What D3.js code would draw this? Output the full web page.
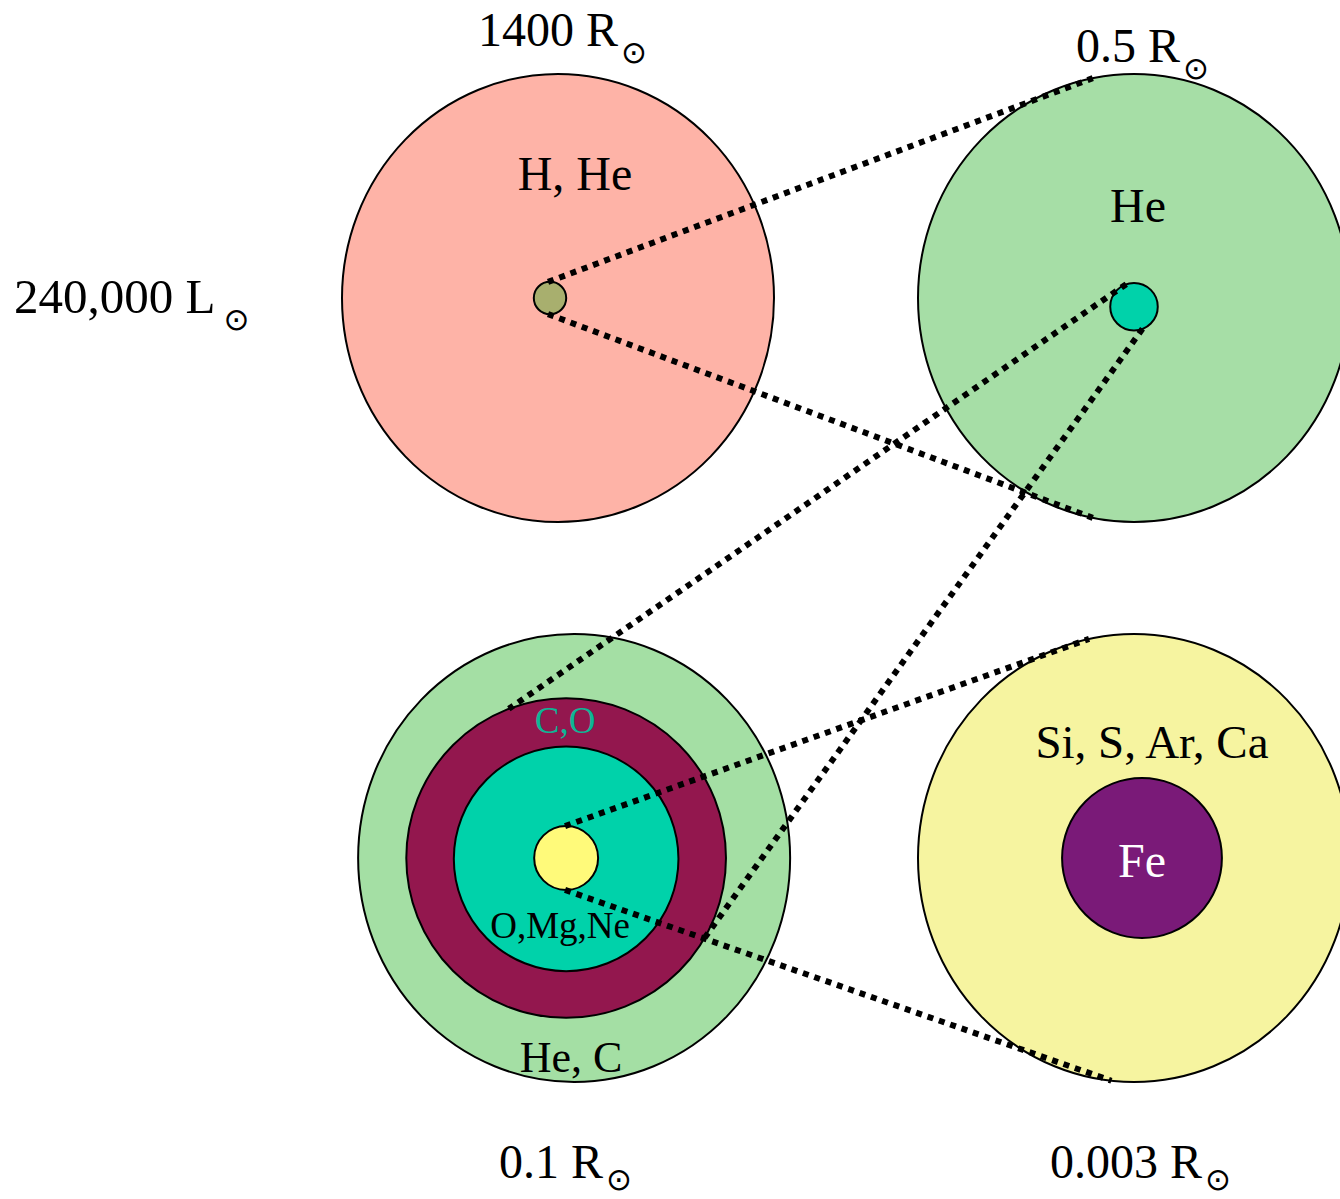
<!DOCTYPE html>
<html><head><meta charset="utf-8">
<script src="https://cdn.jsdelivr.net/npm/d3@7"></script>
<style>html,body{margin:0;padding:0;background:#fff;}svg{display:block;}</style>
</head><body>
<script>
// ---------- DATA ----------
const panelIds      = ["red supergiant", "helium core", "C/O core", "silicon core"];
const panelRadiusLabels = ["1400", "0.5", "0.1", "0.003"];   // in solar radii
const luminosityLabel   = "240,000";                          // solar luminosities
// layers (outer shell = 1, others = fraction of the panel's outer radius)
const layerPanel  = [0, 0, 1, 1, 2, 2, 2, 2, 3, 3];
const layerRadius = [1, 0.075, 1, 0.11, 1, 0.74, 0.52, 0.148, 1, 0.37];
const layerLabels = ["H, He", "", "He", "", "He, C", "C,O", "O,Mg,Ne", "", "Si, S, Ar, Ca", "Fe"];
// zoom links: [fromLayer, angle on it (deg), toLayer, angle on it (deg)]
const linkFrom      = [1, 1, 3, 3, 7, 7];
const linkFromAngle = [-97, 97, -109, 69, -92, 92];
const linkTo        = [2, 2, 5, 5, 8, 8];
const linkToAngle   = [-101, 101, -111, 30, -102, 96];

// ---------- LAYOUT / STYLE ----------
const W = 1340, H = 1199;
const colX = d3.scaleLinear().domain([0, 1]).range([558, 1134]);
const rowY = d3.scaleLinear().domain([0, 1]).range([298, 858]);
const panelCol = [0, 1, 0.028, 1], panelRow = [0, 0, 1, 1];
const rScale = d3.scaleLinear().domain([0, 1]).range([0, 216]);
const outerAspect = 224 / 216;
const layerFill = ["#FEB3A7", "#A8AF6E", "#A6DEA6", "#00D2AA", "#A4DFA4", "#93174E", "#00D2AA", "#FFFA7A", "#F6F4A0", "#7A1A78"];
const layerOffset = [[0,0],[-0.037,0],[0,0],[0,0.04],[0,0],[-0.037,0],[-0.037,0.004],[-0.037,0],[0,0],[0.037,0]];
const labelOffset = [[17,-108],[0,0],[4,-76],[0,0],[-3,214],[-9,-125],[-14,80],[0,0],[18,-100],[8,19]];
const labelSize   = [48,0,48,0,44,37,37,0,47,48];
const labelColor  = ["#000","#000","#000","#000","#000","#0FB596","#000","#000","#000","#fff"];

const svg = d3.select("body").append("svg").attr("width", W).attr("height", H);

function center(i) {
  const p = layerPanel[i];
  const r0 = rScale(1);
  return [colX(panelCol[p]) + layerOffset[i][0] * r0, rowY(panelRow[p]) + layerOffset[i][1] * r0];
}
const ryOf = i => rScale(layerRadius[i]) * (layerRadius[i] === 1 ? outerAspect : 1);
function pointOn(i, deg) {
  const [cx, cy] = center(i), a = deg * Math.PI / 180;
  return [cx + rScale(layerRadius[i]) * Math.cos(a), cy + ryOf(i) * Math.sin(a)];
}

// shells
svg.append("g").selectAll("ellipse").data(layerRadius).join("ellipse")
  .attr("cx", (d, i) => center(i)[0])
  .attr("cy", (d, i) => center(i)[1])
  .attr("rx", d => rScale(d))
  .attr("ry", (d, i) => ryOf(i))
  .attr("fill", (d, i) => layerFill[i])
  .attr("stroke", "#000").attr("stroke-width", 2);

// labels inside shells
svg.append("g").selectAll("text").data(layerLabels.map((d, i) => i).filter(i => layerLabels[i] !== "")).join("text")
  .attr("x", i => colX(panelCol[layerPanel[i]]) + labelOffset[i][0])
  .attr("y", i => rowY(panelRow[layerPanel[i]]) + labelOffset[i][1])
  .attr("text-anchor", "middle")
  .attr("font-family", "'Liberation Serif','Times New Roman',serif")
  .attr("font-size", i => labelSize[i])
  .attr("fill", i => labelColor[i])
  .text(i => layerLabels[i]);

// dotted zoom lines
const line = d3.line();
svg.append("g").selectAll("path").data(linkFrom).join("path")
  .attr("d", (d, k) => line([pointOn(d, linkFromAngle[k]), pointOn(linkTo[k], linkToAngle[k])]))
  .attr("fill", "none").attr("stroke", "#000")
  .attr("stroke-width", 6).attr("stroke-dasharray", "6 6");

// radius labels and luminosity
const sizePos = [[478, 46, 17], [1076, 62, 17], [499, 1178, 12], [1050, 1178, 12]];
function solarLabel(x, y, txt, unit, size, gap, sub) {
  const t = svg.append("text").attr("x", x).attr("y", y)
    .attr("font-family", "'Liberation Serif','Times New Roman',serif")
    .attr("font-size", size).attr("fill", "#000");
  t.append("tspan").text(txt + " " + unit);
  t.append("tspan").attr("dx", gap).attr("dy", sub)
    .attr("font-family", "'DejaVu Sans',sans-serif").attr("font-size", 31).text("\u2299");
}
panelRadiusLabels.forEach((d, i) => solarLabel(sizePos[i][0], sizePos[i][1], d, "R", 48, 3, sizePos[i][2]));
solarLabel(14, 313, luminosityLabel, "L", 49, 8, 17);
</script>
</body></html>
